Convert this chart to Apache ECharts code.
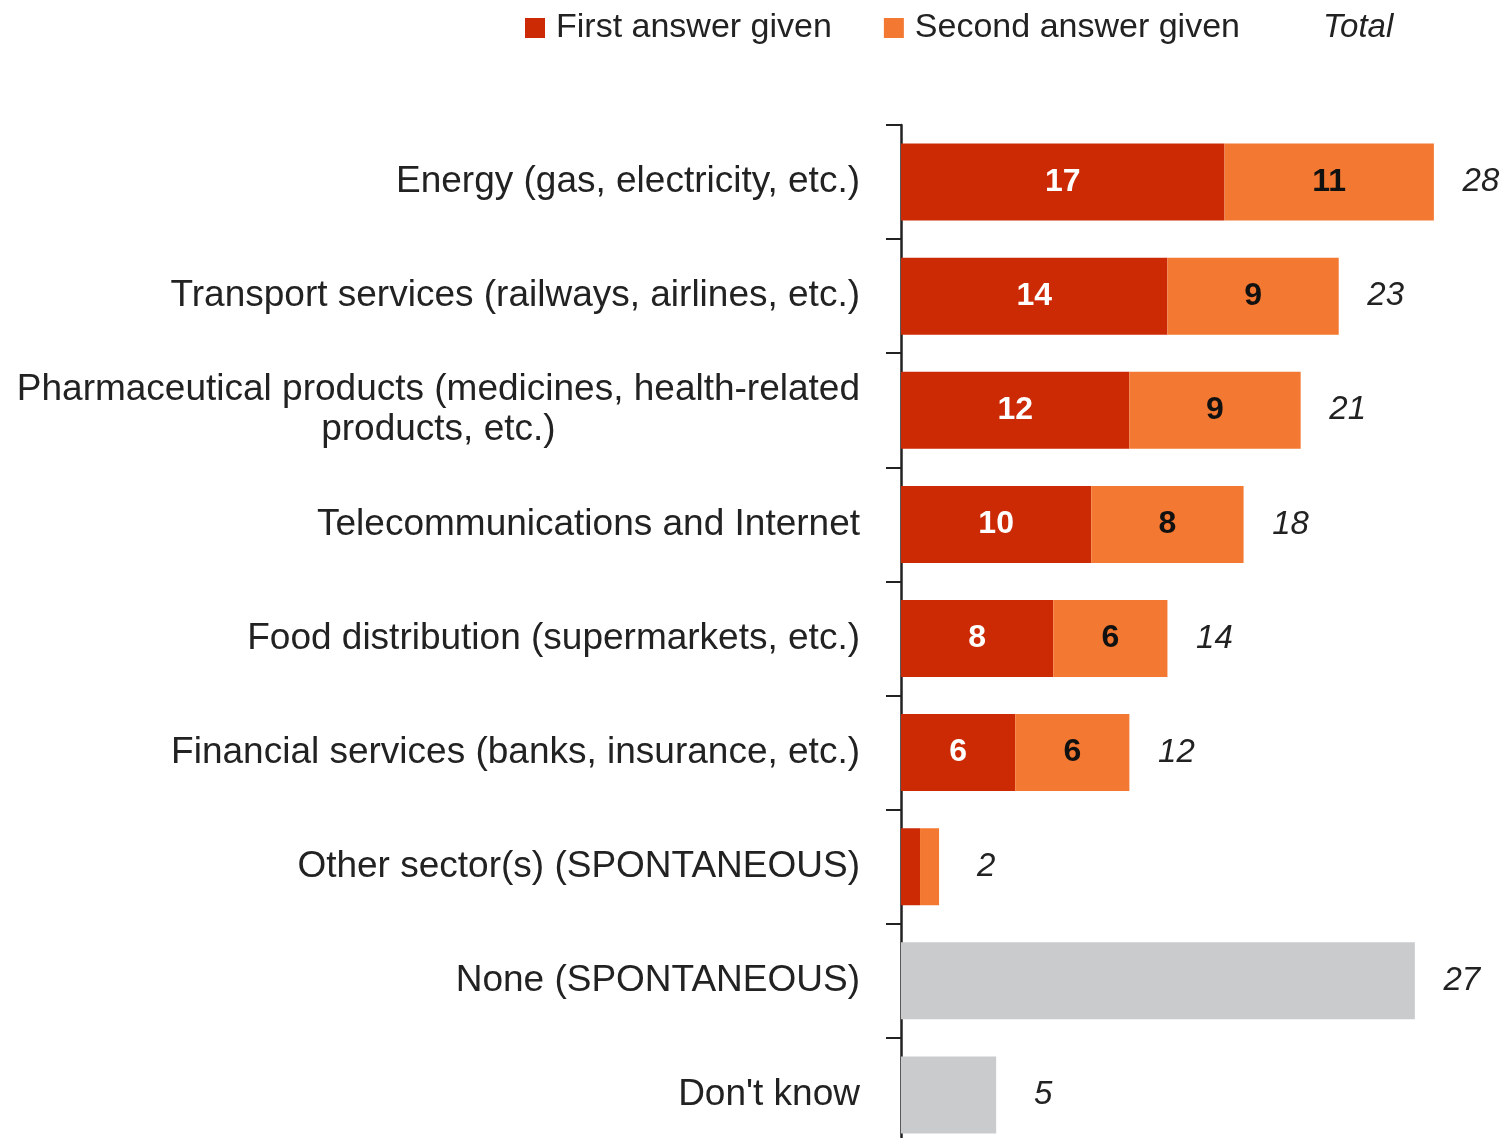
<!DOCTYPE html>
<html>
<head>
<meta charset="utf-8">
<script src="https://cdn.jsdelivr.net/npm/echarts@6/dist/echarts.min.js"></script>
<style>
  html, body { margin: 0; padding: 0; background: #fff; overflow: hidden; }
  /* the plot runs slightly past the bottom edge of the window */
  #chart { width: 1511px; height: 1152px; }
</style>
</head>
<body>
<div id="chart"></div>
<script>
// Sectors, top to bottom
const categories = [
  'Energy (gas, electricity, etc.)',
  'Transport services (railways, airlines, etc.)',
  'Pharmaceutical products (medicines, health-related\nproducts, etc.)',
  'Telecommunications and Internet',
  'Food distribution (supermarkets, etc.)',
  'Financial services (banks, insurance, etc.)',
  'Other sector(s) (SPONTANEOUS)',
  'None (SPONTANEOUS)',
  "Don't know"
];

// Percentages per answer
const firstAnswer  = [17, 14, 12, 10, 8, 6, 1, null, null];
const secondAnswer = [11, 9, 9, 8, 6, 6, 1, null, null];
const noSector     = [null, null, null, null, null, null, null, 27, 5];

// Total per row: sum of both answers, or the single grey value
const totals = categories.map((_, i) =>
  (firstAnswer[i] || 0) + (secondAnswer[i] || 0) + (noSector[i] || 0));

const FONT = 'Liberation Sans, Arial, sans-serif';

const chart = echarts.init(document.getElementById('chart'));

chart.setOption({
  animation: false,
  backgroundColor: '#ffffff',
  textStyle: { fontFamily: FONT },
  legend: {
    top: 6,
    left: 520,
    icon: 'rect',
    itemWidth: 20,
    itemHeight: 20,
    itemGap: 52,
    textStyle: { fontSize: 34, color: '#222', fontFamily: FONT, padding: [0, 0, 0, 6] },
    data: [
      { name: 'First answer given' },
      { name: 'Second answer given' },
      { name: 'Total', itemStyle: { opacity: 0 },
        textStyle: { fontStyle: 'italic', fontSize: 33, color: '#222' } }
    ]
  },
  grid: {
    left: 901,
    top: 125,
    width: 609,
    bottom: 0,
    containLabel: false
  },
  xAxis: {
    type: 'value',
    min: 0,
    max: 32,
    show: false
  },
  yAxis: {
    type: 'category',
    inverse: true,
    data: categories,
    axisLine: { show: true, lineStyle: { color: '#222', width: 2.5 } },
    axisTick: { show: true, length: 15, lineStyle: { color: '#222', width: 2 } },
    axisLabel: {
      margin: 41,
      fontSize: 37,
      color: '#222',
      fontFamily: FONT,
      lineHeight: 40,
      formatter: v => v.indexOf('\n') >= 0 ? '{c|' + v + '}' : v,
      rich: {
        c: { align: 'center', fontSize: 37, lineHeight: 40, color: '#222', fontFamily: FONT }
      }
    },
    splitLine: { show: false }
  },
  series: [
    {
      name: 'First answer given',
      type: 'bar',
      stack: 'all',
      barWidth: 77,
      data: firstAnswer,
      itemStyle: { color: '#CB2A05' },
      label: {
        show: true,
        position: 'inside',
        fontSize: 32,
        fontWeight: 'bold',
        color: '#ffffff',
        fontFamily: FONT,
        formatter: p => (p.value >= 3 ? p.value : '')
      }
    },
    {
      name: 'Second answer given',
      type: 'bar',
      stack: 'all',
      barWidth: 77,
      data: secondAnswer,
      itemStyle: { color: '#F37831' },
      label: {
        show: true,
        position: 'inside',
        fontSize: 32,
        fontWeight: 'bold',
        color: '#111111',
        fontFamily: FONT,
        formatter: p => (p.value >= 3 ? p.value : '')
      }
    },
    {
      name: 'None / Don\'t know',
      type: 'bar',
      stack: 'all',
      barWidth: 77,
      data: noSector,
      itemStyle: { color: '#C9CBCD' }
    },
    {
      name: 'Total',
      type: 'bar',
      stack: 'all',
      barWidth: 77,
      data: totals.map(() => 0),
      itemStyle: { color: 'rgba(0,0,0,0)' },
      label: {
        show: true,
        position: 'right',
        distance: 47,
        align: 'center',
        fontSize: 33,
        fontStyle: 'italic',
        color: '#222',
        fontFamily: FONT,
        formatter: p => totals[p.dataIndex]
      }
    }
  ]
});
</script>
</body>
</html>
